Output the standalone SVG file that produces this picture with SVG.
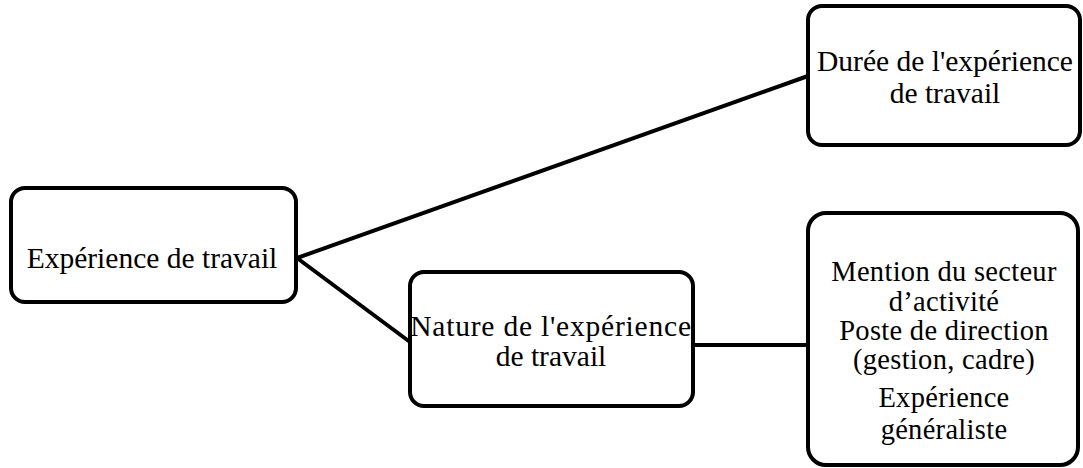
<svg xmlns="http://www.w3.org/2000/svg" width="1083" height="468" viewBox="0 0 1083 468">
<style>
.box{fill:#fff;stroke:#000;stroke-width:4}
.ln{stroke:#000;stroke-width:4;fill:none}
.t{font-family:'Liberation Serif','Times New Roman',serif;font-size:29.5px;fill:#000;text-anchor:middle}
.s{font-size:28.5px;letter-spacing:0.3px}
</style>
<rect width="1083" height="468" fill="#fff"/>
<g id="connectors">
<line class="ln" x1="297" y1="258" x2="808" y2="76"/>
<line class="ln" x1="297" y1="258" x2="410" y2="342"/>
<line class="ln" x1="692" y1="345" x2="808" y2="345"/>
</g>
<g id="n1"><rect class="box" x="11" y="188" width="285" height="114" rx="14"/><text class="t" x="152" y="268">Expérience de travail</text></g>
<g id="n2"><rect class="box" x="410" y="272" width="283" height="134" rx="14"/><text class="t" x="551" y="336" letter-spacing="0.8">Nature de l'expérience</text><text class="t" x="551" y="366">de travail</text></g>
<g id="n3"><rect class="box" x="808" y="6" width="272" height="139" rx="14"/><text class="t" x="945" y="71">Durée de l'expérience</text><text class="t" x="945" y="103">de travail</text></g>
<g id="n4"><rect class="box" x="808" y="213" width="270" height="252" rx="18"/>
<text class="t s" x="944" y="281">Mention du secteur</text>
<text class="t s" x="944" y="311">d’activité</text>
<text class="t s" x="944" y="340">Poste de direction</text>
<text class="t s" x="944" y="369">(gestion, cadre)</text>
<text class="t s" x="944" y="407">Expérience</text>
<text class="t s" x="944" y="439">généraliste</text>
</g>
</svg>
